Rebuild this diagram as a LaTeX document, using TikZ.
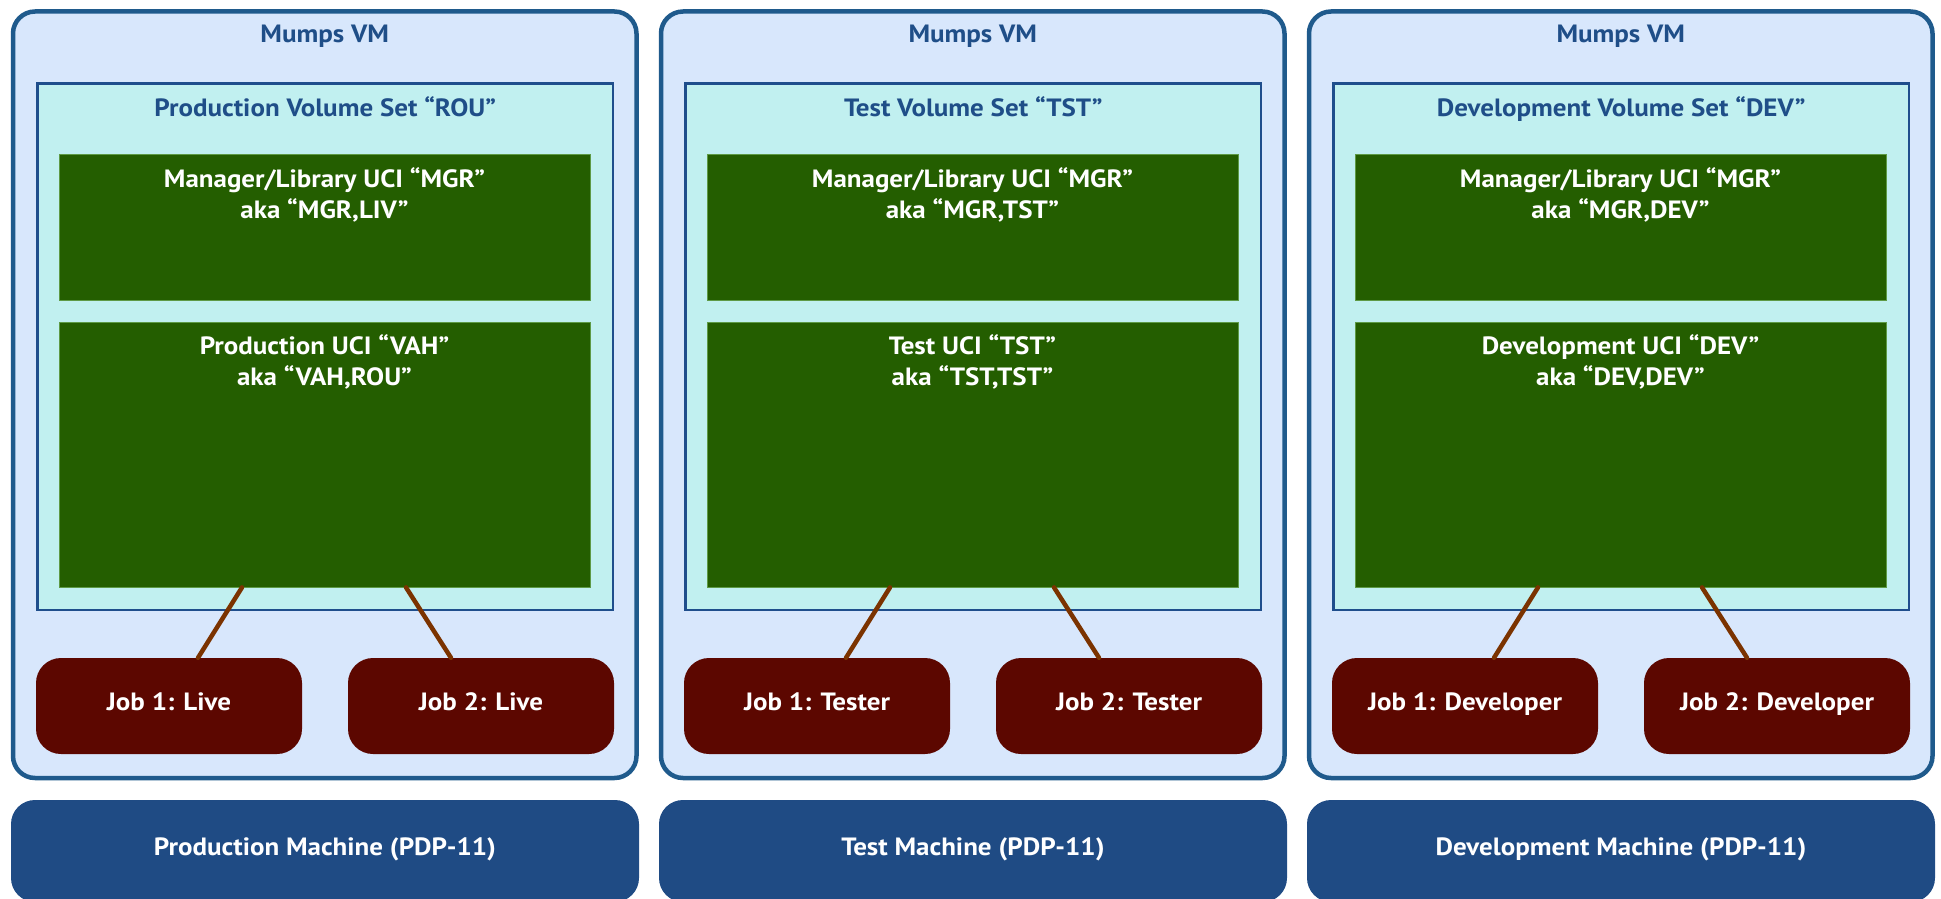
\documentclass[tikz,border=0pt]{standalone}
\usepackage{fontspec}
\setmainfont[FakeStretch=1.08]{PT Sans}
\usetikzlibrary{positioning}

\definecolor{vmfill}{HTML}{D8E7FC}
\definecolor{vmline}{HTML}{1F5A8C}
\definecolor{volfill}{HTML}{C1F0F0}
\definecolor{volline}{HTML}{1F4E8C}
\definecolor{ucifill}{HTML}{245E00}
\definecolor{uciline}{HTML}{5E9A46}
\definecolor{jobfill}{HTML}{5C0700}
\definecolor{linkcol}{HTML}{7B3300}
\definecolor{machfill}{HTML}{1F4B84}
\definecolor{titlecol}{HTML}{1F4E88}

\tikzstyle{vmbox} = [draw=vmline, fill=vmfill, rectangle, rounded corners=22pt,
                     line width=4.5pt, inner sep=0pt,
                     minimum width=623.5pt, minimum height=766.5pt]
\tikzstyle{volbox} = [draw=volline, fill=volfill, rectangle, line width=2.5pt,
                      inner sep=0pt, minimum width=575.5pt, minimum height=526.5pt]
\tikzstyle{ucibox} = [draw=uciline, fill=ucifill, rectangle, line width=0.8pt,
                      inner sep=0pt, minimum width=531pt]
\tikzstyle{jobbox} = [fill=jobfill, rectangle, rounded corners=25pt,
                      minimum width=266pt, minimum height=96pt,
                      text height=17pt, text depth=9pt,
                      text=white, font=\fontsize{25}{31}\selectfont\bfseries]
\tikzstyle{machbox} = [fill=machfill, rectangle, rounded corners=24pt,
                       minimum width=628pt, minimum height=102pt,
                       text height=17pt, text depth=9pt,
                       text=white, font=\fontsize{25}{31}\selectfont\bfseries]
\tikzstyle{title} = [anchor=base, text=titlecol,
                     font=\fontsize{25}{31}\selectfont\bfseries]
\tikzstyle{ucitext} = [text=white, align=center,
                       font=\fontsize{25}{31}\selectfont\bfseries]
\tikzstyle{link} = [draw=linkcol, line width=4.5pt, line cap=round]

\begin{document}
\begin{tikzpicture}[x=1pt, y=-1pt]

\useasboundingbox (0,0) rectangle (1941,899);

% production
\node at (324.75,394.75)[vmbox] (vmA) {};
\node at ([yshift=-33pt]vmA.north)[title] (vmA-t) {Mumps VM};
\node at (325.25,346.75)[volbox] (volA) {};
\node at ([yshift=-34pt]volA.north)[title] (volA-t) {Production Volume Set “ROU”};
\node at (324.5,227)[ucibox,minimum height=146pt] (mgrA) {};
\node at ([yshift=-41pt]mgrA.north)[ucitext] (mgrA-t)
      {Manager/Library UCI “MGR”\\aka “MGR,LIV”};
\node at (324.5,454.5)[ucibox,minimum height=265pt] (uciA) {};
\node at ([yshift=-40pt]uciA.north)[ucitext] (uciA-t)
      {Production UCI “VAH”\\aka “VAH,ROU”};
\node at (169,706)[jobbox] (jobA1) {Job 1: Live};
\node at (481,706)[jobbox] (jobA2) {Job 2: Live};
\node at (325,851)[machbox] (machA) {Production Machine (PDP-11)};

\draw[link] ([xshift=-82.5pt]uciA.south) -- ([xshift=29pt]jobA1.north);
\draw[link] ([xshift=81.5pt]uciA.south) -- ([xshift=-30pt]jobA2.north);

% test
\node at (972.75,394.75)[vmbox] (vmB) {};
\node at ([yshift=-33pt]vmB.north)[title] (vmB-t) {Mumps VM};
\node at (973.25,346.75)[volbox] (volB) {};
\node at ([yshift=-34pt]volB.north)[title] (volB-t) {Test Volume Set “TST”};
\node at (972.5,227)[ucibox,minimum height=146pt] (mgrB) {};
\node at ([yshift=-41pt]mgrB.north)[ucitext] (mgrB-t)
      {Manager/Library UCI “MGR”\\aka “MGR,TST”};
\node at (972.5,454.5)[ucibox,minimum height=265pt] (uciB) {};
\node at ([yshift=-40pt]uciB.north)[ucitext] (uciB-t)
      {Test UCI “TST”\\aka “TST,TST”};
\node at (817,706)[jobbox] (jobB1) {Job 1: Tester};
\node at (1129,706)[jobbox] (jobB2) {Job 2: Tester};
\node at (973,851)[machbox] (machB) {Test Machine (PDP-11)};

\draw[link] ([xshift=-82.5pt]uciB.south) -- ([xshift=29pt]jobB1.north);
\draw[link] ([xshift=81.5pt]uciB.south) -- ([xshift=-30pt]jobB2.north);

% development
\node at (1620.75,394.75)[vmbox] (vmC) {};
\node at ([yshift=-33pt]vmC.north)[title] (vmC-t) {Mumps VM};
\node at (1621.25,346.75)[volbox] (volC) {};
\node at ([yshift=-34pt]volC.north)[title] (volC-t) {Development Volume Set “DEV”};
\node at (1620.5,227)[ucibox,minimum height=146pt] (mgrC) {};
\node at ([yshift=-41pt]mgrC.north)[ucitext] (mgrC-t)
      {Manager/Library UCI “MGR”\\aka “MGR,DEV”};
\node at (1620.5,454.5)[ucibox,minimum height=265pt] (uciC) {};
\node at ([yshift=-40pt]uciC.north)[ucitext] (uciC-t)
      {Development UCI “DEV”\\aka “DEV,DEV”};
\node at (1465,706)[jobbox] (jobC1) {Job 1: Developer};
\node at (1777,706)[jobbox] (jobC2) {Job 2: Developer};
\node at (1621,851)[machbox] (machC) {Development Machine (PDP-11)};

\draw[link] ([xshift=-82.5pt]uciC.south) -- ([xshift=29pt]jobC1.north);
\draw[link] ([xshift=81.5pt]uciC.south) -- ([xshift=-30pt]jobC2.north);

\end{tikzpicture}
\end{document}
